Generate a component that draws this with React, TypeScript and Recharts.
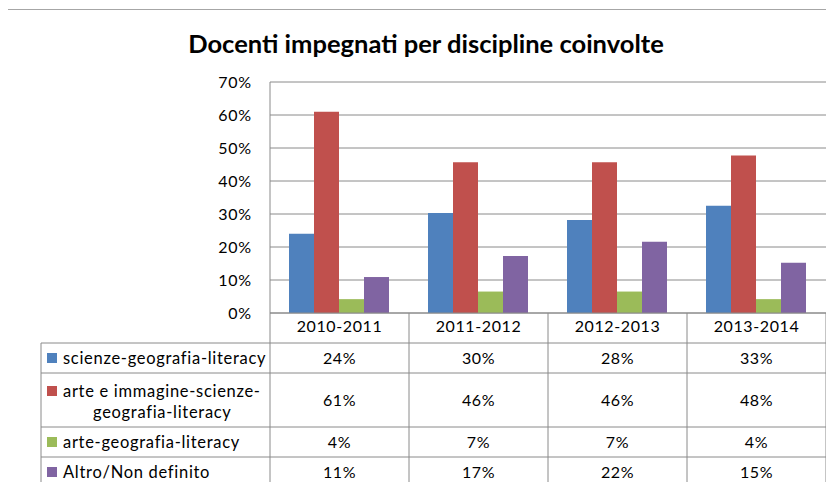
import { BarChart, Bar, XAxis, YAxis, CartesianGrid } from 'recharts';

const years = ['2010-2011', '2011-2012', '2012-2013', '2013-2014'];
const scienze = [0.24, 0.303, 0.282, 0.325];
const arteImmagine = [0.61, 0.457, 0.457, 0.477];
const arteGeografia = [0.042, 0.065, 0.065, 0.042];
const altro = [0.109, 0.173, 0.216, 0.152];
const yTicks = [0, 0.1, 0.2, 0.3, 0.4, 0.5, 0.6, 0.7];

const series = [
  { key: 'scienze', label: ['scienze-geografia-literacy'], values: scienze, color: '#4F81BD' },
  { key: 'arteImmagine', label: ['arte e immagine-scienze-', 'geografia-literacy'], values: arteImmagine, color: '#C0504D' },
  { key: 'arteGeografia', label: ['arte-geografia-literacy'], values: arteGeografia, color: '#9BBB59' },
  { key: 'altro', label: ['Altro/Non definito'], values: altro, color: '#8064A2' },
];

const data = years.map((year, i) => {
  const row: Record<string, string | number> = { year };
  series.forEach((s) => {
    row[s.key] = s.values[i];
  });
  return row;
});

const W = 834;
const H = 490;
const PLOT_LEFT = 270;
const PLOT_RIGHT = 826;
const PLOT_TOP = 82;
const PLOT_BOTTOM = 313;
const Y_AXIS_W = 60;
const X_AXIS_H = 30;
const FONT = 'Lato, "Noto Sans", sans-serif';
const LINE = '#8a8a8a';
const LABEL_SIZE = 16.5;
const NUM_SIZE = 16;

// table rows under the plot
const TABLE_LEFT = 41;
const rowEdges = [343, 373, 427, 457, 487];

const pct = (v: number) => `${Math.round(v * 100)}%`;

function DataTable() {
  const colW = (PLOT_RIGHT - PLOT_LEFT) / years.length;
  const colX = years.map((_, i) => PLOT_LEFT + i * colW);
  return (
    <svg width={W} height={H} style={{ position: 'absolute', left: 0, top: 0, pointerEvents: 'none' }}>
      {[...colX, PLOT_RIGHT].map((x, i) => (
        <line key={`h${i}`} x1={x} x2={x} y1={PLOT_BOTTOM} y2={rowEdges[rowEdges.length - 1]} stroke={LINE} />
      ))}
      <line x1={TABLE_LEFT} x2={TABLE_LEFT} y1={rowEdges[0]} y2={rowEdges[rowEdges.length - 1]} stroke={LINE} />
      {rowEdges.map((y) => (
        <line key={`r${y}`} x1={TABLE_LEFT} x2={PLOT_RIGHT} y1={y} y2={y} stroke={LINE} />
      ))}
      {series.map((s, r) => {
        const top = rowEdges[r];
        const bottom = rowEdges[r + 1];
        const mid = (top + bottom) / 2;
        const two = s.label.length > 1;
        const firstY = two ? mid - 9 : mid;
        return (
          <g key={s.key}>
            <rect x={47} y={firstY - 5} width={10} height={10} fill={s.color} />
            <text x={63} y={firstY} dy="0.35em" fontSize={LABEL_SIZE} letterSpacing={0.7} fontFamily={FONT} fill="#000">
              {s.label[0]}
            </text>
            {two && (
              <text x={93} y={mid + 12} dy="0.35em" fontSize={LABEL_SIZE} letterSpacing={0.7} fontFamily={FONT} fill="#000">
                {s.label[1]}
              </text>
            )}
            {s.values.map((v, i) => (
              <text
                key={i}
                x={colX[i] + colW / 2}
                y={mid}
                dy="0.35em"
                textAnchor="middle"
                fontSize={NUM_SIZE}
                letterSpacing={0.6}
                fontFamily={FONT}
                fill="#000"
              >
                {pct(v)}
              </text>
            ))}
          </g>
        );
      })}
    </svg>
  );
}

export default function App() {
  return (
    <div style={{ position: 'relative', width: W, height: H, margin: -8, background: '#fff' }}>
      <div
        style={{
          position: 'absolute',
          left: 6,
          top: 9,
          width: W,
          height: H,
          borderLeft: '1px solid #a6a6a6',
          borderTop: '1px solid #a6a6a6',
          boxSizing: 'border-box',
        }}
      />
      <div
        style={{
          position: 'absolute',
          left: 0,
          top: 27,
          width: 852,
          textAlign: 'center',
          fontFamily: FONT,
          fontWeight: 700,
          fontSize: 25.5,
          lineHeight: '32px',
          color: '#000',
        }}
      >
        Docenti impegnati per discipline coinvolte
      </div>
      <div style={{ position: 'absolute', left: 0, top: 0 }}>
        <BarChart
          width={W}
          height={H}
          data={data}
          barCategoryGap={19}
          barGap={0}
          margin={{
            top: PLOT_TOP,
            right: W - PLOT_RIGHT,
            bottom: H - PLOT_BOTTOM - X_AXIS_H,
            left: PLOT_LEFT - Y_AXIS_W,
          }}
        >
          <CartesianGrid vertical={false} stroke={LINE} />
          <XAxis
            dataKey="year"
            height={X_AXIS_H}
            tickLine={false}
            tickSize={0}
            tickMargin={8}
            axisLine={{ stroke: LINE }}
            tick={{ fontSize: NUM_SIZE, fontFamily: FONT, fill: '#000', letterSpacing: 0.6 }}
          />
          <YAxis
            width={Y_AXIS_W}
            domain={[0, 0.7]}
            ticks={yTicks}
            tickFormatter={pct}
            tickLine={false}
            tickSize={0}
            tickMargin={18}
            axisLine={{ stroke: LINE }}
            tick={{ fontSize: NUM_SIZE, fontFamily: FONT, fill: '#000', letterSpacing: 0.8 }}
          />
          {series.map((s) => (
            <Bar key={s.key} dataKey={s.key} fill={s.color} isAnimationActive={false} />
          ))}
        </BarChart>
      </div>
      <DataTable />
    </div>
  );
}
